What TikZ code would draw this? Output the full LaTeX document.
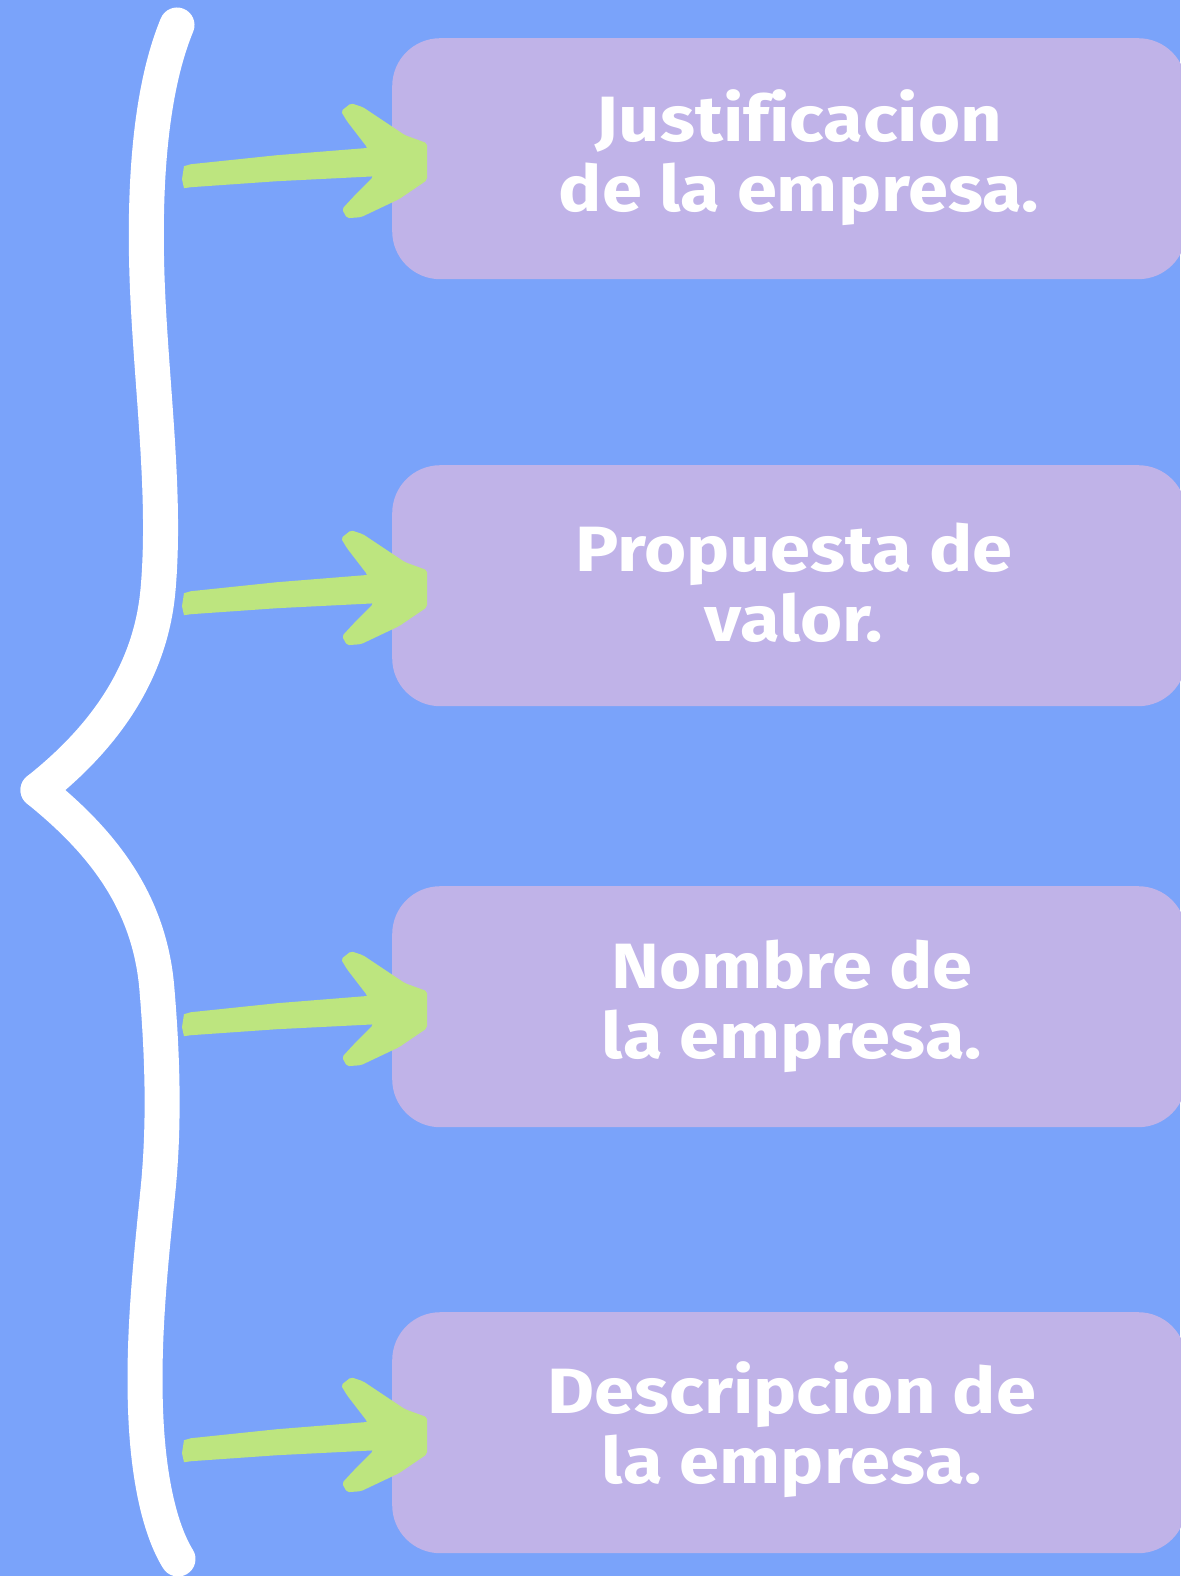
\documentclass[tikz,border=0pt]{standalone}
\usepackage{fontspec}
\setmainfont{Fira Sans}[FakeStretch=1.13, Ligatures=NoCommon]
\definecolor{bg}{HTML}{7AA3FA}
\definecolor{boxc}{HTML}{C0B3E8}
\definecolor{arrowc}{HTML}{BDE57F}
\begin{document}
\begin{tikzpicture}[x=1pt,y=-1pt,
  card/.style={fill=boxc, draw=none, rounded corners=48pt, minimum width=794pt,
    minimum height=241pt, anchor=north west, inner sep=0pt},
  lbl/.style={text=white, font=\fontsize{64}{70}\selectfont\bfseries, align=center},
  bracestroke/.style={draw=white, line width=35pt, line cap=round, line join=round},
  brusharrow/.pic={
    \fill[arrowc] (-245,18) -- (-243,5) -- (-236,3) -- (-150,-6) -- (-50,-14)
      -- (-40,-14) -- (-40,16) -- (-50,15) -- (-150,20) -- (-236,26) -- (-243,27) -- cycle;
    \fill[arrowc, rounded corners=2pt] (-76,-58) -- (-64,-54) -- (-22,-26) -- (0,-18)
      -- (0,19) -- (-28,38) -- (-66,56) -- (-80,57) -- (-85,48) -- (-74,36)
      -- (-54,16) -- (-60,-14) -- (-80,-40) -- (-86,-50) -- cycle;
  }]
\useasboundingbox (0,0) rectangle (1180,1576);
\fill[bg] (0,0) rectangle (1180,1576);

% brace
\draw[bracestroke] (177,25) .. controls (148,95) and (143,200) .. (148,300)
  .. controls (153,400) and (166,500) .. (158,590)
  .. controls (150,680) and (96,744) .. (38,790);
\draw[bracestroke] (38,790) .. controls (100,840) and (150,900) .. (157,990)
  .. controls (162,1050) and (165,1120) .. (158,1190)
  .. controls (151,1260) and (142,1340) .. (146,1420)
  .. controls (149,1480) and (160,1530) .. (178,1559);

% cards
\node[card] (b1) at (392,38) {};
\node[card] (b2) at (392,465) {};
\node[card] (b3) at (392,886) {};
\node[card] (b4) at (392,1312) {};

\node[lbl] (t1) at (799,158) {Justificacion\\de la empresa.};
\node[lbl] (t2) at (794,583) {Propuesta de\\valor.};
\node[lbl] (t3) at (792,1006) {Nombre de\\la empresa.};
\node[lbl] (t4) at (792,1430) {Descripcion de\\la empresa.};

% arrows
\pic at ([xshift=35pt,yshift=-2.5pt]b1.west) {brusharrow};
\pic at ([xshift=35pt,yshift=-2.5pt]b2.west) {brusharrow};
\pic at ([xshift=35pt,yshift=-2.5pt]b3.west) {brusharrow};
\pic at ([xshift=35pt,yshift=-2.5pt]b4.west) {brusharrow};
\end{tikzpicture}
\end{document}
